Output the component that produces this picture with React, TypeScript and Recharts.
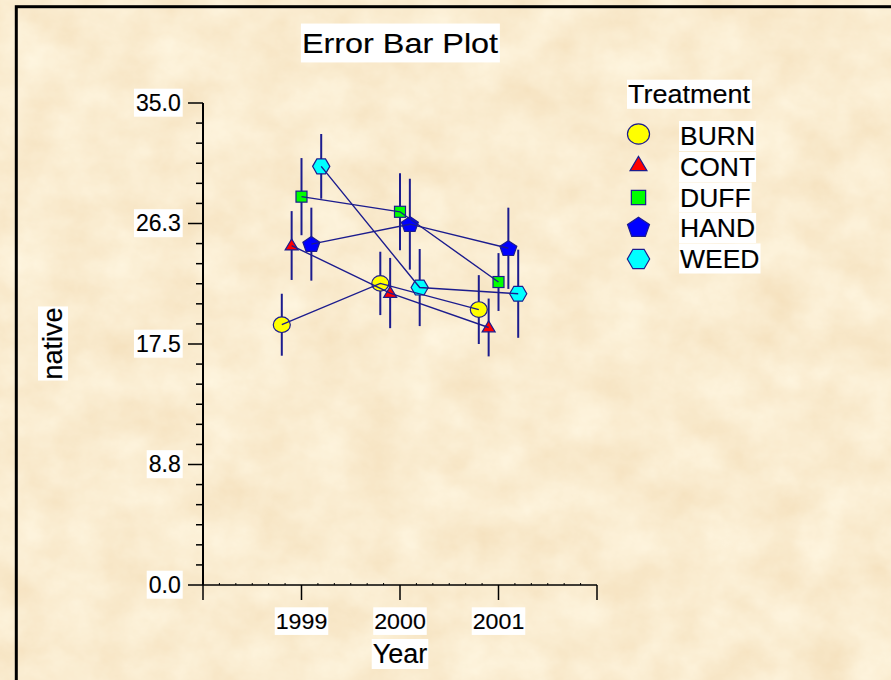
import React, { useLayoutEffect, useRef, useState } from 'react';
import { ComposedChart, Scatter, XAxis, YAxis, ErrorBar } from 'recharts';

// ---------- data ----------
const treatments = ['BURN', 'CONT', 'DUFF', 'HAND', 'WEED'];
const markerKinds = ['circle', 'triangle', 'square', 'pentagon', 'hexagon'];
const markerColors = ['#FFFF00', '#FF0000', '#00FF00', '#0000FF', '#00FFFF'];
const years = [1999, 2000, 2001];
const yearLabels = ['1999', '2000', '2001'];
const dodge = [-0.2, -0.1, 0, 0.1, 0.2];

const burnMean = [18.9, 21.9, 20.0];
const burnErr = [2.25, 2.3, 2.5];
const contMean = [24.65, 21.2, 18.7];
const contErr = [2.5, 2.55, 2.1];
const duffMean = [28.2, 27.1, 22.0];
const duffErr = [2.8, 2.8, 2.1];
const handMean = [24.75, 26.2, 24.45];
const handErr = [2.65, 3.3, 2.95];
const weedMean = [30.4, 21.6, 21.15];
const weedErr = [2.35, 2.8, 3.2];

const yTicksMajor = [0, 8.75, 17.5, 26.25, 35];
const yTickLabels = ['0.0', '8.8', '17.5', '26.3', '35.0'];
const xTicksMajor = [1998, 1999, 2000, 2001, 2002];

const means = [burnMean, contMean, duffMean, handMean, weedMean];
const errs = [burnErr, contErr, duffErr, handErr, weedErr];

const series = treatments.map((t, i) =>
  years.map((yr, j) => ({ x: yr + dodge[i], y: means[i][j], err: errs[i][j] }))
);

// minor subdivisions (6 per major interval)
const yTicksAll: number[] = [];
for (let k = 0; k < yTicksMajor.length - 1; k++) {
  for (let s = 0; s < 6; s++) yTicksAll.push(yTicksMajor[k] + ((yTicksMajor[k + 1] - yTicksMajor[k]) * s) / 6);
}
yTicksAll.push(yTicksMajor[yTicksMajor.length - 1]);
const xTicksAll: number[] = [];
for (let k = 0; k < xTicksMajor.length - 1; k++) {
  for (let s = 0; s < 6; s++) xTicksAll.push(xTicksMajor[k] + ((xTicksMajor[k + 1] - xTicksMajor[k]) * s) / 6);
}
xTicksAll.push(xTicksMajor[xTicksMajor.length - 1]);

// ---------- styling ----------
const FONT = '"Liberation Sans", Arial, Helvetica, sans-serif';
const NAVY = '#1c1c8e';

type BoxTextProps = {
  x: number; y: number; text: string; size: number;
  anchor?: 'start' | 'middle' | 'end'; sx?: number; rot?: number;
  padX?: number; padTop?: number; padBottom?: number;
};

function BoxText({ x, y, text, size, anchor = 'middle', sx = 1, rot = 0, padX = 1, padTop = 0, padBottom = 0 }: BoxTextProps) {
  const ref = useRef<SVGTextElement>(null);
  const [bb, setBb] = useState<{ x: number; y: number; w: number; h: number } | null>(null);
  useLayoutEffect(() => {
    if (ref.current) {
      const b = ref.current.getBBox();
      setBb({ x: b.x, y: b.y, w: b.width, h: b.height });
    }
  }, [text, size]);
  return (
    <g transform={`translate(${x},${y}) rotate(${rot}) scale(${sx},1)`}>
      {bb && (
        <rect x={bb.x - padX / sx} y={bb.y - padTop} width={bb.w + (2 * padX) / sx} height={bb.h + padTop + padBottom} fill="#fff" />
      )}
      <text ref={ref} x={0} y={0} textAnchor={anchor} fontSize={size} fontFamily={FONT} fill="#000" stroke="#000" strokeWidth={0.15}>
        {text}
      </text>
    </g>
  );
}

function Marker({ kind, cx, cy, color, s = 1 }: { kind: string; cx: number; cy: number; color: string; s?: number }) {
  const common = { fill: color, stroke: NAVY, strokeWidth: 1.2 };
  if (kind === 'circle') return <ellipse cx={cx} cy={cy} rx={8.5 * s} ry={7.8 * s} {...common} />;
  if (kind === 'triangle') {
    const w = 13 * s, h = 11 * s;
    const pts = `${cx},${cy - 0.6 * h} ${cx - w / 2},${cy + 0.4 * h} ${cx + w / 2},${cy + 0.4 * h}`;
    return <polygon points={pts} {...common} />;
  }
  if (kind === 'square') {
    const w = 11 * s;
    return <rect x={cx - w / 2} y={cy - w / 2} width={w} height={w} {...common} />;
  }
  if (kind === 'pentagon') {
    const R = 8.9 * s;
    const pts: string[] = [];
    for (let k = 0; k < 5; k++) {
      const a = -Math.PI / 2 + (k * 2 * Math.PI) / 5;
      pts.push(`${cx + R * Math.cos(a)},${cy + 0.92 * R * Math.sin(a) + 0.6 * s}`);
    }
    return <polygon points={pts.join(' ')} {...common} />;
  }
  // hexagon, pointy left/right
  const R = 8.6 * s;
  const pts: string[] = [];
  for (let k = 0; k < 6; k++) {
    const a = (k * Math.PI) / 3;
    pts.push(`${cx + R * Math.cos(a)},${cy + R * Math.sin(a)}`);
  }
  return <polygon points={pts.join(' ')} {...common} />;
}

const XTick = (props: any) => {
  const { x, y, payload } = props;
  const v = payload.value;
  const major = Math.abs(v - Math.round(v)) < 1e-6;
  const li = years.indexOf(Math.round(v));
  return (
    <g>
      {major ? (
        <line x1={x} x2={x} y1={y} y2={y + 15} stroke="#000" strokeWidth={1.5} />
      ) : (
        <line x1={x} x2={x} y1={y - 2} y2={y} stroke="#000" strokeWidth={1} />
      )}
      {major && li >= 0 && <BoxText x={x} y={y + 44} text={yearLabels[li]} size={22.5} sx={1.03} padTop={1} padBottom={1} />}
    </g>
  );
};

const YTick = (props: any) => {
  const { x, y, payload } = props;
  const v = payload.value;
  const idx = yTicksMajor.findIndex((m) => Math.abs(m - v) < 1e-6);
  const major = idx >= 0;
  return (
    <g>
      <line x1={x - (major ? 15 : 7)} x2={x} y1={y} y2={y} stroke="#000" strokeWidth={1.5} />
      {major && <BoxText x={x - 22.3} y={y + 7.7} text={yTickLabels[idx]} size={23} anchor="end" padX={2} padTop={1} padBottom={1} />}
    </g>
  );
};

const legendY = [134, 165, 197.5, 227, 259];
const legendTextY = [145, 176, 206.5, 237, 267.5];

export default function App() {
  return (
    <div style={{ position: 'absolute', left: 0, top: 0, width: 891, height: 680, overflow: 'hidden' }}>
      <svg width={891} height={680} style={{ position: 'absolute', left: 0, top: 0 }}>
        <defs>
          <filter id="parch" x="0" y="0" width="100%" height="100%" colorInterpolationFilters="sRGB">
            <feTurbulence type="fractalNoise" baseFrequency="0.02 0.025" numOctaves={5} seed={3} result="n" />
            <feColorMatrix
              type="matrix"
              values="0.04 0 0 0 0.96  0.09 0 0 0 0.88  0.15 0 0 0 0.74  0 0 0 0 1"
            />
          </filter>
        </defs>
        <rect x={0} y={0} width={891} height={680} fill="#faecd0" filter="url(#parch)" />
        <rect x={16.3} y={6.7} width={900} height={700} fill="none" stroke="#000" strokeWidth={3} />
      </svg>
      <div style={{ position: 'absolute', left: 0, top: 0 }}>
        <ComposedChart width={891} height={680} margin={{ top: 103, right: 294, bottom: 94, left: 202 }}>
          <XAxis
            type="number"
            dataKey="x"
            domain={[1998, 2002]}
            ticks={xTicksAll}
            interval={0}
            tick={(p: any) => <XTick {...p} />}
            tickLine={false}
            tickSize={0}
            tickMargin={0}
            height={1}
            axisLine={{ stroke: '#000', strokeWidth: 1.5 }}
            allowDataOverflow
          />
          <YAxis
            type="number"
            dataKey="y"
            domain={[0, 35]}
            ticks={yTicksAll}
            interval={0}
            tick={(p: any) => <YTick {...p} />}
            tickLine={false}
            tickSize={0}
            tickMargin={0}
            width={1}
            axisLine={{ stroke: '#000', strokeWidth: 2 }}
            allowDataOverflow
          />
          {series.map((d, i) => (
            <Scatter
              key={treatments[i]}
              name={treatments[i]}
              data={d}
              isAnimationActive={false}
              shape={(p: any) => <Marker kind={markerKinds[i]} cx={p.cx} cy={p.cy} color={markerColors[i]} />}
            >
              <ErrorBar dataKey="err" direction="y" width={0} stroke={NAVY} strokeWidth={2} />
            </Scatter>
          ))}
          {series.map((d, i) => (
            <Scatter
              key={treatments[i] + '-line'}
              name={treatments[i] + '-line'}
              data={d}
              isAnimationActive={false}
              line={{ stroke: NAVY, strokeWidth: 1.4 }}
              lineType="joint"
              shape={() => <g />}
            />
          ))}
        </ComposedChart>
      </div>
      <svg width={891} height={680} style={{ position: 'absolute', left: 0, top: 0, pointerEvents: 'none' }}>
        <BoxText x={400} y={53} text="Error Bar Plot" size={27} sx={1.2} padTop={5} padBottom={4} />
        <BoxText x={400} y={663} text="Year" size={27} />
        <BoxText x={62} y={343.5} text="native" size={27} rot={-90} />
        <BoxText x={628} y={103} text="Treatment" size={25.5} anchor="start" sx={1.06} />
        {treatments.map((t, i) => (
          <g key={t}>
            <Marker kind={markerKinds[i]} cx={638.5} cy={legendY[i]} color={markerColors[i]} s={1.3} />
            <BoxText x={680} y={legendTextY[i]} text={t} size={26.5} anchor="start" />
          </g>
        ))}
      </svg>
    </div>
  );
}
